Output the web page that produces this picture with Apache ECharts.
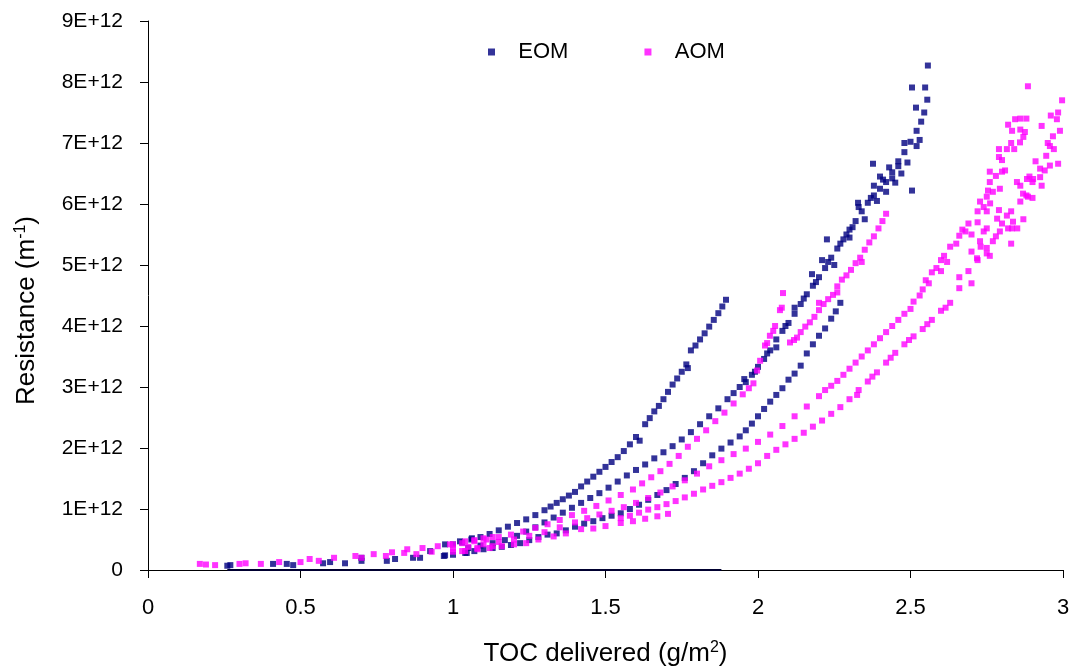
<!DOCTYPE html>
<html>
<head>
<meta charset="utf-8">
<script src="https://cdn.jsdelivr.net/npm/echarts@6/dist/echarts.min.js"></script>
<style>html,body{margin:0;padding:0;background:#fff}#c{width:1074px;height:672px}</style>
</head>
<body>
<div id="c"></div>
<script>
// Values: x = TOC delivered (g/m2), y = Resistance in units of 1E+12 m-1
const seriesNames = ['EOM', 'AOM'];
const xTicks = [0, 0.5, 1, 1.5, 2, 2.5, 3];
const yTicks = [0, 1, 2, 3, 4, 5, 6, 7, 8, 9];

const eomLow = [[0.26,0.07],[0.27,0.08],[0.41,0.1],[0.455,0.1],[0.476,0.08],[0.574,0.11],[0.597,0.13],[0.646,0.11],[0.70,0.15],[0.70,0.2],[0.783,0.15],[0.81,0.18],[0.869,0.2],[0.892,0.2],[0.925,0.31],[0.974,0.24],[0.974,0.42],[1.023,0.47],[1.045,0.28],[1.062,0.52]];
const eom1 = [[1.00,0.42],[1.03,0.45],[1.06,0.50],[1.09,0.54],[1.12,0.59],[1.15,0.65],[1.18,0.71],[1.21,0.77],[1.24,0.83],[1.27,0.90],[1.30,0.98],[1.32,1.04],[1.34,1.10],[1.36,1.16],[1.38,1.22],[1.40,1.28],[1.42,1.37],[1.44,1.45],[1.46,1.53],[1.48,1.61],[1.50,1.69],[1.52,1.77],[1.54,1.85],[1.56,1.95],[1.58,2.06],[1.60,2.18],[1.612,2.12],[1.63,2.39],[1.645,2.49],[1.66,2.60],[1.675,2.69],[1.69,2.80],[1.705,2.92],[1.72,3.04],[1.735,3.14],[1.75,3.25],[1.765,3.37],[1.77,3.31],[1.78,3.60],[1.795,3.68],[1.81,3.78],[1.825,3.88],[1.84,3.99],[1.855,4.10],[1.87,4.21],[1.883,4.32],[1.895,4.43]];
const eom2 = [[1.05,0.36],[1.09,0.40],[1.13,0.44],[1.17,0.49],[1.21,0.56],[1.24,0.63],[1.27,0.70],[1.30,0.78],[1.33,0.86],[1.36,0.94],[1.39,1.02],[1.42,1.10],[1.45,1.18],[1.48,1.26],[1.51,1.35],[1.54,1.45],[1.57,1.55],[1.60,1.64],[1.63,1.73],[1.66,1.83],[1.69,1.93],[1.72,2.03],[1.75,2.14],[1.78,2.26],[1.81,2.39],[1.84,2.52],[1.87,2.65],[1.90,2.80],[1.92,2.90],[1.94,3.00],[1.96,3.08],[1.98,3.20],[2.00,3.33],[2.02,3.46],[2.04,3.60],[2.06,3.78],[2.08,3.92],[2.10,4.05],[2.12,4.20],[2.14,4.36],[2.16,4.52],[2.18,4.66],[2.20,4.80],[2.22,4.95],[2.24,5.12],[2.26,5.27],[2.28,5.42],[2.30,5.58],[2.32,5.72],[2.34,5.88],[2.36,6.02],[2.38,6.14],[2.40,6.25],[2.42,6.36],[2.44,6.52],[2.46,6.70],[2.48,6.85],[2.50,7.02],[2.52,7.20],[2.535,7.35],[2.545,7.50],[2.555,7.71],
  [2.557,8.27],[2.505,7.91],[2.548,7.91],[2.518,7.58],[2.377,6.66],[2.505,6.22],[2.226,5.42],[2.21,5.08],[2.177,4.85],[2.328,6.02],[2.43,6.6],[2.47,6.5],[2.40,6.45],[2.49,6.68],[2.53,7.05],[2.35,5.75],[2.30,5.45],[2.25,5.0],[2.42,6.2],[2.45,6.35],[2.38,6.3],[2.33,5.95],[2.27,5.35],[2.19,4.72],[2.12,4.3],[2.06,3.65],[1.99,3.25],[1.955,3.13],[2.48,7.0],[2.52,6.95],
  [2.23,5.05],[2.29,5.5],[2.31,5.62],[2.37,6.1],[2.39,6.05],[2.41,6.4],[2.44,6.42],[2.46,6.62],[2.15,4.45],[2.09,4.0],[2.03,3.55]];
const eom3 = [[0.97,0.23],[1.00,0.25],[1.04,0.28],[1.07,0.31],[1.10,0.34],[1.13,0.36],[1.16,0.38],[1.19,0.41],[1.22,0.44],[1.25,0.49],[1.28,0.54],[1.31,0.58],[1.34,0.60],[1.37,0.65],[1.40,0.71],[1.43,0.76],[1.46,0.80],[1.49,0.85],[1.52,0.89],[1.55,0.93],[1.58,1.00],[1.61,1.07],[1.64,1.15],[1.67,1.23],[1.70,1.31],[1.73,1.41],[1.76,1.51],[1.79,1.62],[1.82,1.75],[1.85,1.88],[1.88,1.99],[1.91,2.09],[1.94,2.19],[1.96,2.29],[1.98,2.40],[2.00,2.52],[2.02,2.64],[2.04,2.76],[2.06,2.87],[2.08,2.98],[2.10,3.12],[2.12,3.22],[2.14,3.35],[2.16,3.55],[2.18,3.70],[2.20,3.84],[2.22,3.96],[2.24,4.12],[2.255,4.24],[2.27,4.38]];
const eomZero = [[0.26,0],[1.88,0]];

const aomLow = [[0.17,0.1],[0.19,0.09],[0.22,0.08],[0.30,0.1],[0.32,0.11],[0.37,0.1],[0.43,0.13],[0.50,0.13],[0.53,0.18],[0.56,0.15],[0.61,0.2],[0.68,0.23],[0.70,0.2],[0.74,0.26],[0.78,0.23],[0.80,0.29],[0.84,0.28],[0.85,0.34],[0.88,0.26],[0.90,0.36],[0.95,0.39],[0.93,0.3],[1.0,0.42],[1.03,0.31],[1.04,0.47],[1.07,0.49],[1.08,0.36],[1.10,0.52],[1.13,0.54],[1.13,0.39]];
const aom1 = [[0.99,0.42],[1.03,0.44],[1.07,0.47],[1.11,0.50],[1.15,0.54],[1.19,0.58],[1.23,0.63],[1.27,0.69],[1.31,0.75],[1.35,0.82],[1.39,0.90],[1.43,0.97],[1.47,1.05],[1.51,1.14],[1.55,1.23],[1.59,1.32],[1.62,1.42],[1.65,1.52],[1.68,1.62],[1.71,1.74],[1.74,1.87],[1.77,2.02],[1.80,2.15],[1.83,2.29],[1.86,2.44],[1.89,2.58],[1.92,2.73],[1.95,2.88],[1.97,2.98],[1.985,3.06],[1.997,3.27],[2.007,3.43],[2.023,3.68],[2.039,3.84],[2.056,4.0],[2.072,4.26],[2.082,4.54],[2.03,3.72],[2.05,3.92],[2.078,4.3]];
const aom2 = [[2.105,3.73],[2.118,3.77],[2.128,3.81],[2.14,3.9],[2.155,3.99],[2.17,4.06],[2.185,4.15],[2.2,4.26],[2.215,4.36],[2.23,4.44],[2.246,4.51],[2.26,4.65],[2.275,4.76],[2.29,4.83],[2.305,4.92],[2.32,5.03],[2.335,5.12],[2.35,5.25],[2.365,5.37],[2.38,5.47],[2.395,5.6],[2.408,5.72],[2.42,5.84],[2.2,4.38],[2.26,4.55],[2.34,5.05]];
const aom3 = [[1.00,0.35],[1.05,0.38],[1.10,0.42],[1.15,0.46],[1.20,0.50],[1.25,0.56],[1.30,0.62],[1.35,0.70],[1.40,0.78],[1.44,0.85],[1.48,0.91],[1.52,0.97],[1.56,1.03],[1.60,1.10],[1.64,1.18],[1.68,1.27],[1.72,1.37],[1.76,1.47],[1.80,1.58],[1.84,1.70],[1.88,1.80],[1.92,1.90],[1.96,1.99],[2.00,2.10],[2.04,2.22],[2.08,2.36],[2.12,2.52],[2.16,2.68],[2.20,2.85],[2.24,3.02],[2.28,3.20],[2.32,3.40],[2.36,3.60],[2.40,3.80],[2.44,4.00],[2.48,4.20],[2.51,4.40],[2.54,4.6],[2.57,4.88],[2.60,5.08],[2.63,5.3],[2.66,5.48],[2.69,5.68],[2.72,5.88],[2.75,6.12],[2.78,6.46],[2.80,6.72],[2.83,7.0],[2.86,7.22],[2.88,7.4],[2.885,7.93],
  [2.56,4.7],[2.6,4.9],[2.65,5.35],[2.68,5.55],[2.72,5.7],[2.74,5.95],[2.76,6.53],[2.79,6.77],[2.833,7.2],[2.843,7.39],[2.81,6.55],[2.84,6.9],[2.87,7.1],[2.7,5.5],[2.62,5.05],[2.585,4.95],[2.53,4.5],[2.77,6.2],[2.86,7.4],[2.82,7.3],[2.79,6.9],[2.816,6.9],[2.875,7.18],[2.859,7.01],[2.8,6.53],[2.76,6.36],[2.849,6.36],[2.882,6.41],[2.793,6.25],[2.754,6.22],[2.728,6.04],[2.761,6.01],[2.75,5.88],
  [2.22,2.95],[2.26,3.1],[2.30,3.3],[2.34,3.5],[2.38,3.7],[2.42,3.9],[2.46,4.1],[2.5,4.28],[2.55,4.75],[2.61,5.15],[2.67,5.58]];
const aom4 = [[1.55,0.85],[1.58,0.89],[1.61,0.94],[1.64,0.99],[1.67,1.03],[1.70,1.08],[1.73,1.13],[1.76,1.19],[1.79,1.25],[1.82,1.32],[1.85,1.38],[1.88,1.44],[1.91,1.51],[1.94,1.58],[1.97,1.66],[2.00,1.75],[2.03,1.87],[2.06,1.97],[2.09,2.06],[2.12,2.15],[2.15,2.25],[2.18,2.35],[2.21,2.45],[2.24,2.56],[2.27,2.67],[2.30,2.80],[2.33,2.95],[2.36,3.09],[2.39,3.24],[2.42,3.40],[2.45,3.56],[2.48,3.70],[2.51,3.83],[2.54,3.95],[2.57,4.10],[2.60,4.25],[2.63,4.38],[2.66,4.62],[2.69,4.9],[2.72,5.08],[2.75,5.28],[2.78,5.47],[2.80,5.68],[2.83,5.88],[2.86,6.04],[2.88,6.14],[2.90,6.36],[2.925,6.58],[2.945,6.79],[2.957,6.95],[2.967,7.11],[2.98,7.39],[2.984,7.5],[2.997,7.7],
  [2.93,7.28],[2.95,7.0],[2.97,6.9],[2.91,6.7],[2.89,6.45],[2.85,5.6],[2.87,5.75],[2.82,5.6],[2.76,5.15],[2.74,5.55],[2.7,4.7],[2.66,4.8],[2.73,5.3],[2.79,5.9],[2.86,6.3],[2.94,6.55],[2.99,7.2],[2.96,7.45],[2.9,6.1],[2.83,5.35],
  [2.784,5.76],[2.816,5.81],[2.836,5.71],[2.793,5.55],[2.833,5.6],[2.75,5.6],[2.77,5.39],[2.728,5.39],[2.718,5.11],[2.7,5.22],[2.75,5.19],[2.869,6.17],[2.885,6.12],[2.902,6.41],[2.925,6.44],[2.93,6.3],[2.984,6.66],[2.957,6.63],
  [2.325,2.87],[2.375,3.17],[2.435,3.48],[2.495,3.77],[2.555,4.03],[2.615,4.3]];
const aom5 = [[1.00,0.30],[1.04,0.31],[1.08,0.34],[1.12,0.36],[1.16,0.39],[1.20,0.42],[1.24,0.44],[1.28,0.50],[1.33,0.55],[1.37,0.60],[1.42,0.67],[1.46,0.68],[1.50,0.72],[1.55,0.77],[1.59,0.80],[1.63,0.84],[1.67,0.88],[1.705,0.92]];

const NAVY = '#000080', MAG = '#FF00FF';
const FONT = 'Liberation Sans, Arial, sans-serif';

const chart = echarts.init(document.getElementById('c'), null, {renderer: 'canvas'});
chart.setOption({
  animation: false,
  backgroundColor: '#fff',
  textStyle: {fontFamily: FONT, color: '#000'},
  grid: {left: 148, right: 11, top: 21, bottom: 98, containLabel: false},
  legend: {
    data: seriesNames.map(n => ({name: n, icon: 'rect'})),
    top: 36, left: 483, itemGap: 76, itemWidth: 7, itemHeight: 7,
    formatter: n => '   ' + n,
    textStyle: {fontFamily: FONT, fontSize: 22, color: '#000'}
  },
  xAxis: {
    type: 'value', min: xTicks[0], max: xTicks[xTicks.length - 1], interval: 0.5,
    splitLine: {show: false},
    axisLine: {show: true, onZero: false, lineStyle: {color: '#000', width: 1}},
    axisTick: {show: true, inside: false, length: 8, lineStyle: {color: '#000'}},
    axisLabel: {fontFamily: FONT, fontSize: 22, color: '#000', margin: 27},
    name: 'TOC delivered (g/m{sup|2})', nameLocation: 'middle', nameGap: 70,
    nameTextStyle: {fontFamily: FONT, fontSize: 26, color: '#000',
      rich: {sup: {fontFamily: FONT, fontSize: 16, color: '#000', verticalAlign: 'top', padding: [0, 0, 12, 0]}}}
  },
  yAxis: {
    type: 'value', min: yTicks[0], max: yTicks[yTicks.length - 1], interval: 1,
    splitLine: {show: false},
    axisLine: {show: true, lineStyle: {color: '#000', width: 1}},
    axisTick: {show: true, inside: false, length: 8, lineStyle: {color: '#000'}},
    axisLabel: {fontFamily: FONT, fontSize: 21, color: '#000', margin: 25,
      formatter: v => v === 0 ? '0' : v + 'E+12'},
    name: 'Resistance (m{sup|-1})', nameLocation: 'middle', nameGap: 107, nameRotate: 90,
    nameTextStyle: {fontFamily: FONT, fontSize: 26, color: '#000', padding: [0, 30, 0, 0],
      rich: {sup: {fontFamily: FONT, fontSize: 16, color: '#000', verticalAlign: 'top', padding: [0, 0, 12, 0]}}}
  },
  series: [
    {name: 'EOM base', type: 'line', data: eomZero, showSymbol: false, symbol: 'none',
     lineStyle: {color: '#000030', width: 2}, silent: true, z: 1},
    {name: 'EOM', type: 'scatter', symbol: 'rect', symbolSize: 6,
     itemStyle: {color: NAVY}, data: [].concat(eomLow, eom1, eom2, eom3), z: 2},
    {name: 'AOM', type: 'scatter', symbol: 'rect', symbolSize: 6,
     itemStyle: {color: MAG}, data: [].concat(aomLow, aom1, aom2, aom3, aom4, aom5), z: 3}
  ]
});
</script>
</body>
</html>
